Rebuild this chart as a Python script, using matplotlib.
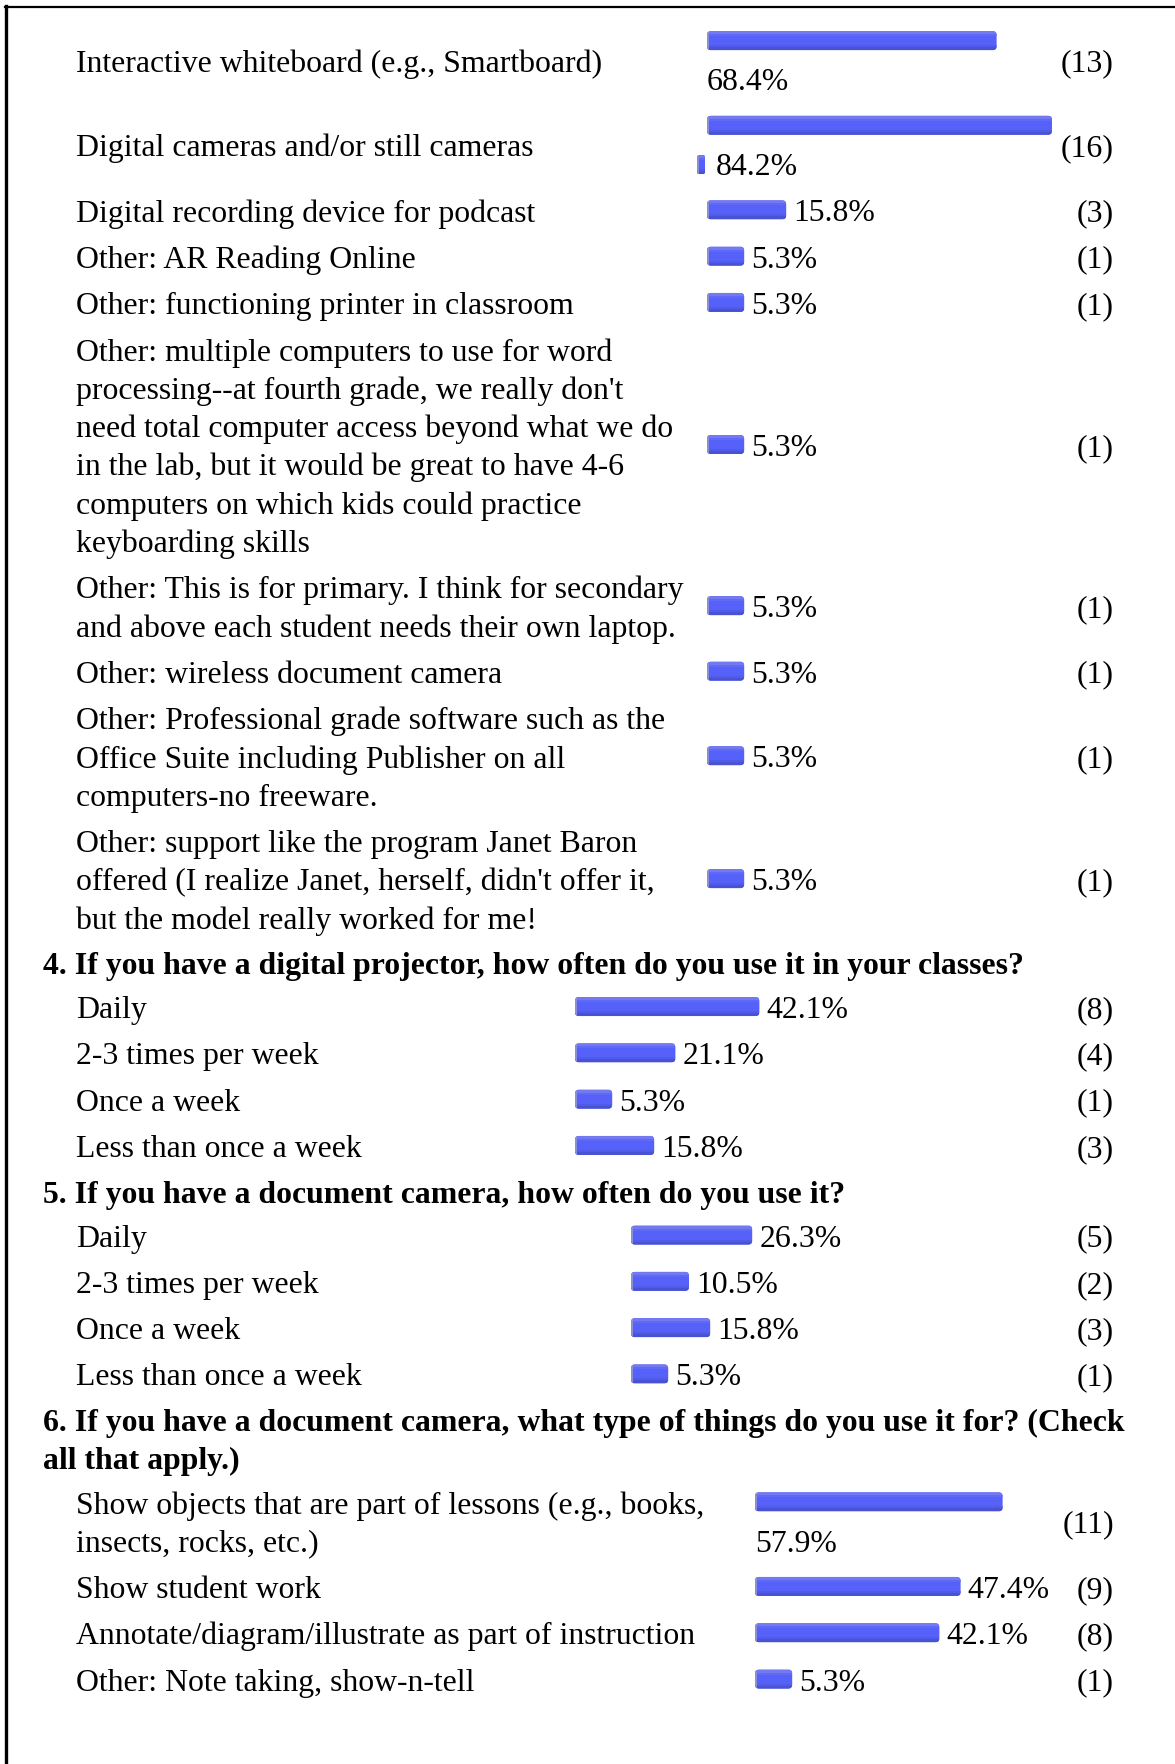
import matplotlib
matplotlib.use('Agg')
import matplotlib.pyplot as plt
from matplotlib.patches import FancyBboxPatch, Rectangle
from matplotlib.lines import Line2D

plt.rcParams['font.family'] = ['Liberation Serif', 'DejaVu Serif']

# 数据 (survey results)
headers = [
    None,
    "4. If you have a digital projector, how often do you use it in your classes?",
    "5. If you have a document camera, how often do you use it?",
    "6. If you have a document camera, what type of things do you use it for? (Check\nall that apply.)",
]
labels_3 = [
    "Interactive whiteboard (e.g., Smartboard)",
    "Digital cameras and/or still cameras",
    "Digital recording device for podcast",
    "Other: AR Reading Online",
    "Other: functioning printer in classroom",
    "Other: multiple computers to use for word\nprocessing--at fourth grade, we really don't\n"
    "need total computer access beyond what we do\nin the lab, but it would be great to have 4-6\n"
    "computers on which kids could practice\nkeyboarding skills",
    "Other: This is for primary. I think for secondary\nand above each student needs their own laptop.",
    "Other: wireless document camera",
    "Other: Professional grade software such as the\nOffice Suite including Publisher on all\ncomputers-no freeware.",
    "Other: support like the program Janet Baron\noffered (I realize Janet, herself, didn't offer it,\nbut the model really worked for me!",
]
pct_3 = [68.4, 84.2, 15.8, 5.3, 5.3, 5.3, 5.3, 5.3, 5.3, 5.3]
count_3 = [13, 16, 3, 1, 1, 1, 1, 1, 1, 1]

labels_4 = ["Daily", "2-3 times per week", "Once a week", "Less than once a week"]
pct_4 = [42.1, 21.1, 5.3, 15.8]
count_4 = [8, 4, 1, 3]

labels_5 = ["Daily", "2-3 times per week", "Once a week", "Less than once a week"]
pct_5 = [26.3, 10.5, 15.8, 5.3]
count_5 = [5, 2, 3, 1]

labels_6 = [
    "Show objects that are part of lessons (e.g., books,\ninsects, rocks, etc.)",
    "Show student work",
    "Annotate/diagram/illustrate as part of instruction",
    "Other: Note taking, show-n-tell",
]
pct_6 = [57.9, 47.4, 42.1, 5.3]
count_6 = [11, 9, 8, 1]

sections = [(labels_3, pct_3, count_3), (labels_4, pct_4, count_4),
            (labels_5, pct_5, count_5), (labels_6, pct_6, count_6)]
bar_x0 = [707, 575, 631, 755]   # 每节条形起点

# 版面参数 (pixels)
W, H = 1175, 1765
LINE = 38.3
PAD = 8
FS = 22.9
DY = 3          # 文字竖直微调
BAR_H = 19
BAR_MIN, PX_PER_PCT = 16, 4.0
CELL_RIGHT = 1052   # 条形所在单元格右边界
COUNT_X = 1114
LABEL_X, HEAD_X = 76.5, 42.8
BAR_COLOR = '#5561f8'

fig = plt.figure(figsize=(W / 100, H / 100), dpi=100)
ax = fig.add_axes([0, 0, 1, 1])
ax.set_xlim(0, W)
ax.set_ylim(H, 0)
ax.set_axis_off()

# 边框
ax.add_line(Line2D([5.5, 5.5], [7, H], color='black', lw=2.4))
ax.add_line(Line2D([4.5, W], [8, 8], color='black', lw=1.6))


def txt(x, y, s, **kw):
    ax.text(x, y + DY, s, fontsize=FS, va='center', **kw)


def draw_bar(x, yc, w, h=BAR_H, r=4):
    y0 = yc - h / 2
    body = FancyBboxPatch((x, y0), w, h, boxstyle=f'round,pad=0,rounding_size={r}',
                          fc=BAR_COLOR, ec='none')
    ax.add_patch(body)
    # 渐变效果: 上亮下暗
    for yy, hh, col in [(y0, 3, '#7379f0'), (y0 + 3, 2, '#6069f6'),
                        (y0 + h - 5, 2, '#505ce8'), (y0 + h - 3, 3, '#4852d2')]:
        band = Rectangle((x, yy), w, hh, fc=col, ec='none')
        ax.add_patch(band)
        band.set_clip_path(body)
    edge = Rectangle((x, y0), 2, h, fc='#8a8fd8', ec='none')
    ax.add_patch(edge)
    edge.set_clip_path(body)


y = 18.5
for header, (labels, pcts, counts), x0 in zip(headers, sections, bar_x0):
    if header:
        hl = header.split('\n')
        for i, line in enumerate(hl):
            txt(HEAD_X, y + 22.5 + i * LINE, line, fontweight='bold', ha='left')
        y += len(hl) * LINE + 5
    for lab, p, n in zip(labels, pcts, counts):
        w = BAR_MIN + PX_PER_PCT * p
        wrapped = x0 + w > 980
        ll = lab.split('\n')
        nl = max(len(ll), 2 if wrapped else 1)
        h = nl * LINE + PAD
        c = y + h / 2
        top = c - (len(ll) - 1) * LINE / 2
        for i, line in enumerate(ll):
            txt(LABEL_X, top + i * LINE, line, ha='left')
        if wrapped:
            w_main = min(w, CELL_RIGHT - x0)
            draw_bar(x0, c - LINE / 2, w_main)
            tx = x0
            rest = w - w_main
            if rest > 0:   # 溢出换行的小段
                draw_bar(x0 - rest - 2, c + LINE / 2 + 1, rest, r=2)
                tx = x0 + 9
            txt(tx, c + LINE / 2, f"{p:.1f}%", ha='left')
        else:
            draw_bar(x0, c, w)
            txt(x0 + w + 7, c, f"{p:.1f}%", ha='left')
        txt(COUNT_X, c, f"({n})", ha='right')
        y += h

fig.savefig('out.png', dpi=100)
